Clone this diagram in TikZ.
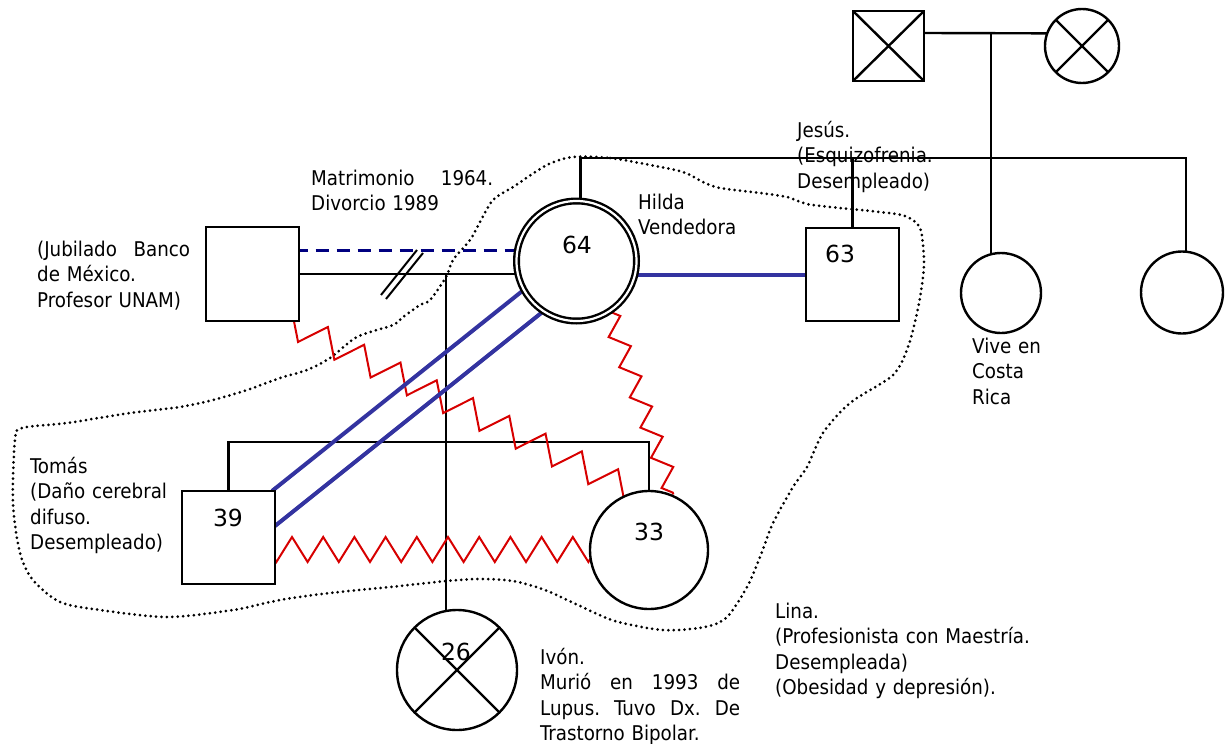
\documentclass[tikz,border=0pt]{standalone}
\usepackage{fontspec}
\setmainfont{DejaVu Sans Condensed}
\newfontfamily\numfont{DejaVu Sans}
\usetikzlibrary{calc,decorations.pathmorphing}
\pgfdeclarelayer{background}
\pgfsetlayers{background,main}
\definecolor{navy}{RGB}{0,0,128}
\definecolor{bondblue}{RGB}{51,51,160}
\definecolor{conflict}{RGB}{215,0,0}
\begin{document}
\begin{tikzpicture}[x=1pt,y=-1pt,
  person/.style={draw, line width=2.4pt, fill=white, inner sep=0pt, outer sep=0pt},
  male/.style={person, rectangle},
  female/.style={person, circle},
  txt/.style={inner sep=0pt, anchor=base west, text width=300pt, align=left, font=\fontsize{20.3}{25.5}\selectfont},
  num/.style={inner sep=0pt, anchor=base, font=\numfont\fontsize{23.5}{28}\selectfont},
  kin/.style={line width=2.4pt},
  bond/.style={draw=bondblue, line width=4pt},
  dashbond/.style={draw=navy, line width=3pt, dash pattern=on 13pt off 8pt},
  zz/.style 2 args={draw=conflict, line width=2pt, decorate, decoration={zigzag, segment length=#1, amplitude=#2}},
  boundary/.style={line width=3pt, line cap=round, dash pattern=on 0pt off 5.4pt}
]
\useasboundingbox (0,0) rectangle (1227,744);

% ---------- persons ----------
\node[male, minimum width=71pt, minimum height=70pt] (GF) at (888.5,46) {};
\draw[kin] (GF.north west) -- (GF.south east) (GF.north east) -- (GF.south west);
\node[female, minimum size=74pt] (GM) at (1082,46) {};
\draw[kin] (GM.45) -- (GM.225) (GM.135) -- (GM.315);
\node[female, minimum size=80pt] (R1) at (1001,293) {};
\node[female, minimum size=82pt] (R2) at (1182,292.5) {};
\node[female, double, double distance=2.2pt, line width=2.4pt, minimum size=120pt] (H) at (576.5,261) {};
\node[male, minimum width=93pt, minimum height=93pt] (J) at (852.5,274.5) {};
\node[male, minimum width=93pt, minimum height=94pt] (F) at (252.5,274) {};
\node[male, minimum width=93pt, minimum height=93pt] (T) at (228.5,537.5) {};
\node[female, minimum size=118pt] (L) at (649,550) {};
\node[female, minimum size=120pt] (I) at (457,670) {};
\draw[kin] (I.45) -- (I.225) (I.135) -- (I.315);

% ---------- ages ----------
\node[num] (n64) at (577,253) {64};
\node[num] (n63) at (840,262) {63};
\node[num] (n39) at (228,526) {39};
\node[num] (n33) at (649,540) {33};
\node[num] (n26) at (456,660) {26};

% ---------- labels ----------
\node[txt] (tmat) at (311,185) {\leavevmode\hbox to 182pt{Matrimonio\hfill 1964.}\\Divorcio 1989};
\node[txt] (thil) at (638,209) {Hilda\\Vendedora};
\node[txt] (tfat) at (37,256) {\leavevmode\hbox to 153pt{(Jubilado\hfill Banco}\\de México.\\Profesor UNAM)};
\node[txt] (tjes) at (797,137) {Jesús.\\(Esquizofrenia.\\Desempleado)};
\node[txt] (tviv) at (972,353) {Vive en\\Costa\\Rica};
\node[txt] (ttom) at (30,473) {Tomás\\(Daño cerebral\\difuso.\\Desempleado)};
\node[txt] (tlin) at (775,618) {Lina.\\(Profesionista con Maestría.\\Desempleada)\\(Obesidad y depresión).};
\node[txt] (tivo) at (540,664) {Ivón.\\\leavevmode\hbox to 200pt{Murió\hfill en\hfill 1993\hfill de}\\\leavevmode\hbox to 200pt{Lupus.\hfill Tuvo\hfill Dx.\hfill De}\\Trastorno Bipolar.};

% ---------- divorce mark ----------
\coordinate (dv) at (402,274);
\draw[line width=2pt] ($(dv)+(-21,21)$) -- ($(dv)+(15,-24)$) ($(dv)+(-16,25)$) -- ($(dv)+(21,-21)$);

\begin{pgfonlayer}{background}
% emotional boundary
\draw[boundary] plot[smooth cycle, tension=0.5] coordinates {
(573,157) (610,158) (650,165) (683,172) (703,182) (720,188) (760,193) (787,197)
(807,204) (840,208) (880,212) (905,216) (920,228) (924,260) (922,285) (917,313)
(908,347) (893,375) (850,403) (823,433) (807,467) (793,487) (773,523) (760,557)
(747,587) (727,617) (705,627) (663,630) (615,621) (580,606) (545,590) (513,581)
(480,579) (446,581) (400,586) (330,593) (280,600) (233,610) (167,617) (100,610)
(60,602) (33,580) (20,553) (13,503) (15,440) (22,428) (67,423) (130,413)
(180,407) (213,400) (247,390) (280,378) (307,370) (330,358) (357,337) (393,325)
(403,317) (420,305) (430,300) (446,277) (453,260) (470,240) (480,222) (493,200)
(513,187) (547,165)};

% grandparents and their children
\draw[kin] ($(GF.east)+(0,-13)$) -- ($(GM.center)+(200:37)$);
\coordinate (gpc) at (991,33);
\draw[kin] (gpc) -- (gpc |- R1.center);
\coordinate (sib) at (1186,158);
\draw[kin] ($(H.center)+(4,0)$) |- (sib) -- (sib |- R2.center);
\draw[kin] (J.center) -- (J.center |- sib);

% couple
\draw[dashbond] ($(F.center)+(0,-24)$) -- ($(H.center)+(0,-11)$);
\draw[kin] (F.center) -- (F.center -| H.center);
\coordinate (m) at (446,274);
\draw[kin] (m) -- (m |- I.center);
\coordinate (cl) at (446,442);
\draw[kin] (T.center) |- (cl) -| (L.center);

% conflicts
\coordinate (z1s) at (276.7,316.7);
\coordinate (z1e) at (641.3,495.4);
\draw[zz={40.4pt}{13.3pt}] (z1s) -- (z1e);
\coordinate (z2s) at (603.9,296.3);
\coordinate (z2e) at (673.4,494.5);
\draw[zz={32pt}{-9pt}] (z2s) -- (z2e);
\coordinate (z3s) at (253,549.5);
\coordinate (z3e) at (598,549.5);
\draw[zz={31.2pt}{12.5pt}] (z3s) -- (z3e);

% close bonds
\draw[bond] ($(T.north east)+(-3,0)$) -- ($(H.center)+(151:62)$);
\draw[bond] ($(T.east)+(0,-11.5)$) -- ($(H.center)+(123.6:61)$);
\draw[bond] (J.center) -- (J.center -| H.center);
\end{pgfonlayer}
\end{tikzpicture}
\end{document}
